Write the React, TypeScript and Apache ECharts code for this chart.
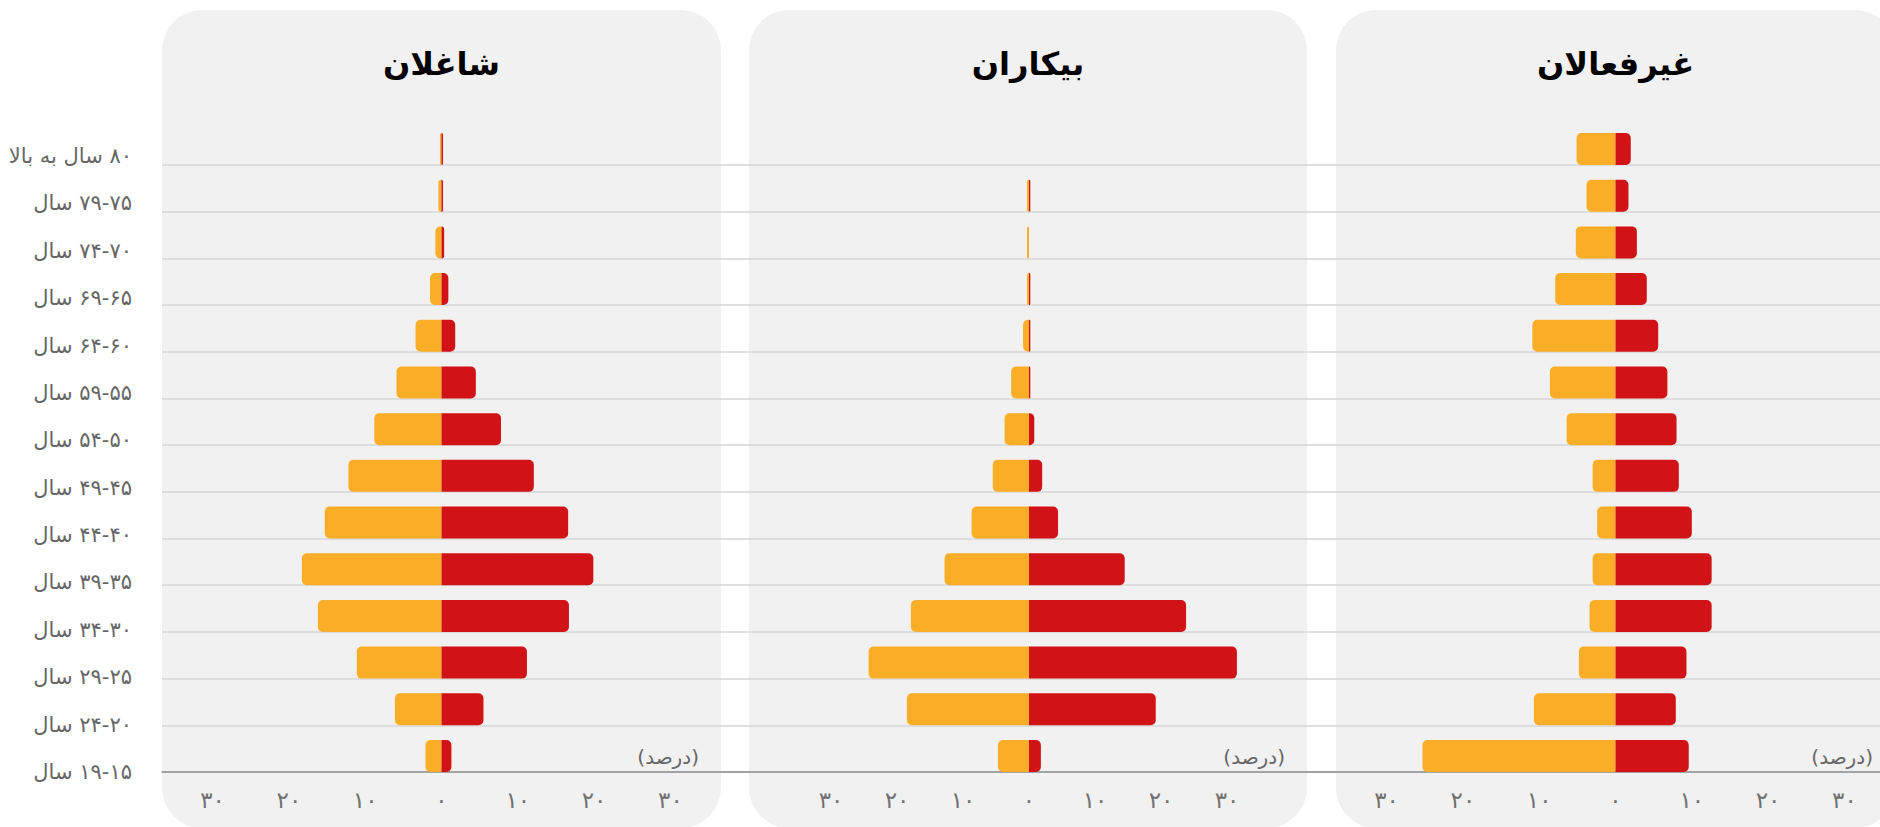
import React, { useEffect, useRef } from 'react';
import * as echarts from 'echarts';

// ---------- data (bottom → top) ----------
const ageGroups = [
  '۱۹-۱۵ سال', '۲۴-۲۰ سال', '۲۹-۲۵ سال', '۳۴-۳۰ سال', '۳۹-۳۵ سال', '۴۴-۴۰ سال', '۴۹-۴۵ سال',
  '۵۴-۵۰ سال', '۵۹-۵۵ سال', '۶۴-۶۰ سال', '۶۹-۶۵ سال', '۷۴-۷۰ سال', '۷۹-۷۵ سال', '۸۰ سال به بالا',
];
const panelTitles = ['شاغلان', 'بیکاران', 'غیرفعالان'];
const unitLabel = '(درصد)';
const tickValues = [-30, -20, -10, 0, 10, 20, 30];

const employedLeft = [2.1, 6.1, 11.1, 16.2, 18.3, 15.3, 12.2, 8.8, 5.9, 3.4, 1.5, 0.8, 0.4, 0.2];
const employedRight = [1.3, 5.5, 11.2, 16.7, 19.9, 16.6, 12.1, 7.8, 4.5, 1.8, 0.9, 0.35, 0.2, 0.2];

const unemployedLeft = [4.7, 18.5, 24.3, 17.9, 12.8, 8.7, 5.5, 3.7, 2.7, 0.9, 0.3, 0.3, 0.3, 0];
const unemployedRight = [1.8, 19.2, 31.5, 23.8, 14.5, 4.4, 2.0, 0.8, 0.2, 0.2, 0.2, 0, 0.2, 0];

const inactiveLeft = [25.3, 10.7, 4.8, 3.4, 3.0, 2.4, 3.0, 6.4, 8.6, 10.9, 7.9, 5.2, 3.8, 5.1];
const inactiveRight = [9.6, 7.9, 9.3, 12.6, 12.6, 10.0, 8.3, 8.0, 6.8, 5.6, 4.1, 2.8, 1.7, 2.0];

// ---------- styles / layout ----------
const FONT = "'DejaVu Sans', 'Noto Sans', sans-serif";
const YELLOW = '#FAAD27';
const RED = '#D11317';
const PANEL_BG = '#F1F1F1';

const toFa = (n: number) => String(n).replace(/\d/g, (d) => '۰۱۲۳۴۵۶۷۸۹'[Number(d)]);

const panels = [
  { title: panelTitles[0], left: employedLeft, right: employedRight, x: 162, w: 559, zero: 441.5, ppu: 7.63, range: 30 },
  { title: panelTitles[1], left: unemployedLeft, right: unemployedRight, x: 749, w: 558, zero: 1029, ppu: 6.6, range: 40 },
  { title: panelTitles[2], left: inactiveLeft, right: inactiveRight, x: 1336, w: 559, zero: 1615.5, ppu: 7.63, range: 30 },
];

const GRID_TOP = 165; // first gridline
const GRID_BOTTOM = 772; // axis line
const BAR_H = 32;

export default function App() {
  const ref = useRef<HTMLDivElement>(null);

  useEffect(() => {
    if (!ref.current) return;
    const chart = echarts.init(ref.current, undefined, { renderer: 'svg' });

    const band = (GRID_BOTTOM - GRID_TOP) / (ageGroups.length - 1);
    const dataBottom = GRID_BOTTOM - BAR_H / 2 + band / 2;
    const dataTop = dataBottom - band * ageGroups.length;
    const H = 827;

    const grid: any[] = [
      { left: 162, right: 0, top: GRID_TOP, height: GRID_BOTTOM - GRID_TOP },
      { left: 162, width: 10, top: 156, height: GRID_BOTTOM - 156 },
    ];
    const xAxis: any[] = [
      {
        gridIndex: 0, type: 'value', min: 0, max: 1, z: 1,
        axisLine: { show: true, lineStyle: { color: '#8f8f8f', width: 1.5 } },
        axisTick: { show: false }, axisLabel: { show: false }, splitLine: { show: false },
      },
      { gridIndex: 1, type: 'value', show: false },
    ];
    const yAxis: any[] = [
      {
        gridIndex: 0, type: 'category', data: ageGroups, boundaryGap: false, z: 1,
        axisLine: { show: false }, axisTick: { show: false }, axisLabel: { show: false },
        splitLine: { show: true, lineStyle: { color: '#d6d6d6', width: 1.5 } },
      },
      {
        gridIndex: 1, type: 'category', data: ageGroups, boundaryGap: false,
        axisLine: { show: false }, axisTick: { show: false }, splitLine: { show: false },
        axisLabel: {
          margin: 30, fontSize: 21, color: '#666', fontFamily: FONT,
          formatter: (v: string) => '\u200F' + v,
        },
      },
    ];
    const series: any[] = [];
    const graphic: any[] = [];

    panels.forEach((p, i) => {
      const half = p.range * p.ppu;
      grid.push({ left: p.zero - half, width: half * 2, top: dataTop, height: dataBottom - dataTop });
      xAxis.push({
        gridIndex: i + 2, type: 'value', min: -p.range, max: p.range, interval: 10,
        axisLine: { show: false }, axisTick: { show: false }, splitLine: { show: false },
        axisLabel: {
          margin: 9, fontSize: 23, color: '#707070', fontFamily: FONT,
          formatter: (v: number) => (tickValues.includes(v) ? toFa(Math.abs(v)) : ''),
        },
      });
      yAxis.push({
        gridIndex: i + 2, type: 'category', data: ageGroups, boundaryGap: true, show: false,
      });
      series.push({
        type: 'bar', name: 'left' + i, xAxisIndex: i + 2, yAxisIndex: i + 2, stack: 's' + i,
        barWidth: BAR_H, data: p.left.map((v) => -v),
        itemStyle: { color: YELLOW, borderRadius: [5, 0, 0, 5] },
      });
      series.push({
        type: 'bar', name: 'right' + i, xAxisIndex: i + 2, yAxisIndex: i + 2, stack: 's' + i,
        barWidth: BAR_H, data: p.right,
        itemStyle: { color: RED, borderRadius: [0, 5, 5, 0] },
      });
      graphic.push({
        type: 'rect', z: -10, silent: true,
        shape: { x: p.x, y: 10, width: p.w, height: H - 10 + 1, r: 40 },
        style: { fill: PANEL_BG },
      });
      graphic.push({
        type: 'text', z: 10, x: p.x + p.w / 2, y: 64,
        style: {
          text: p.title, fill: '#000', font: `bold 32px ${FONT}`,
          textAlign: 'center', textVerticalAlign: 'middle',
        },
      });
      graphic.push({
        type: 'text', z: 10, x: p.x + p.w - 22, y: 757,
        style: {
          text: unitLabel, fill: '#666', font: `20px ${FONT}`,
          textAlign: 'right', textVerticalAlign: 'middle',
        },
      });
    });

    chart.setOption({
      animation: false,
      backgroundColor: '#fff',
      grid, xAxis, yAxis, series, graphic,
    });

    return () => chart.dispose();
  }, []);

  return (
    <div
      ref={ref}
      style={{ position: 'absolute', left: 0, top: 0, width: 1880, height: 827 }}
    />
  );
}
